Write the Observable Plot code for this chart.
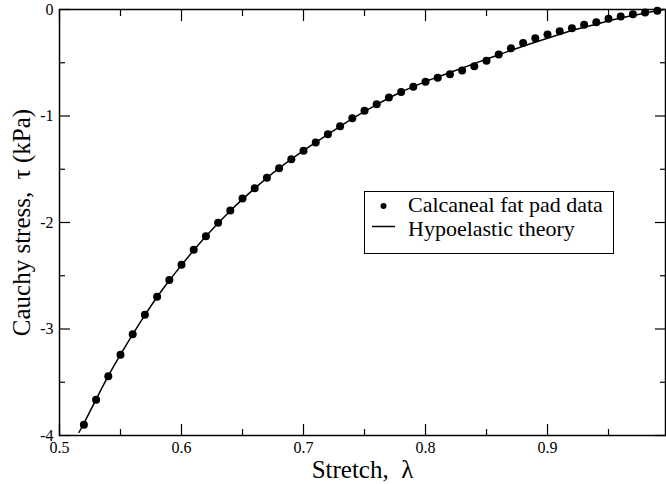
<!DOCTYPE html>
<html>
<head>
<meta charset="utf-8">
<script src="https://cdn.jsdelivr.net/npm/d3@7"></script>
<script src="https://cdn.jsdelivr.net/npm/@observablehq/plot@0.6"></script>
<style>
  html, body { margin: 0; padding: 0; background: #fff; }
  #chart svg { display: block; }
</style>
</head>
<body>
<div id="chart"></div>
<script>
// Measured data: stretch λ and Cauchy stress τ (kPa)
const dataStretch = [0.52, 0.53, 0.54, 0.55, 0.56, 0.57, 0.58, 0.59, 0.60, 0.61,
  0.62, 0.63, 0.64, 0.65, 0.66, 0.67, 0.68, 0.69, 0.70, 0.71,
  0.72, 0.73, 0.74, 0.75, 0.76, 0.77, 0.78, 0.79, 0.80, 0.81,
  0.82, 0.83, 0.84, 0.85, 0.86, 0.87, 0.88, 0.89, 0.90, 0.91,
  0.92, 0.93, 0.94, 0.95, 0.96, 0.97, 0.98, 0.99];
const dataStress = [-3.900, -3.665, -3.443, -3.242, -3.049, -2.867, -2.698, -2.540, -2.397, -2.256,
  -2.129, -2.003, -1.887, -1.775, -1.678, -1.580, -1.490, -1.407, -1.327, -1.249,
  -1.171, -1.096, -1.021, -0.951, -0.889, -0.826, -0.775, -0.726, -0.679, -0.641,
  -0.607, -0.573, -0.532, -0.482, -0.423, -0.365, -0.315, -0.269, -0.235, -0.204,
  -0.175, -0.144, -0.119, -0.087, -0.066, -0.044, -0.028, -0.012];

// Hypoelastic theory curve
const theoryStretch = [0.516, 0.52, 0.53, 0.54, 0.55, 0.56, 0.57, 0.58, 0.59, 0.60,
  0.62, 0.64, 0.66, 0.68, 0.70, 0.72, 0.74, 0.76, 0.78, 0.80,
  0.82, 0.84, 0.86, 0.88, 0.90, 0.92, 0.94, 0.96, 0.98, 0.995];
const theoryStress = [-3.97, -3.885, -3.66, -3.44, -3.24, -3.05, -2.87, -2.70, -2.545, -2.40,
  -2.13, -1.89, -1.68, -1.49, -1.325, -1.173, -1.025, -0.893, -0.775, -0.677,
  -0.592, -0.508, -0.425, -0.345, -0.270, -0.198, -0.138, -0.080, -0.033, 0.0];

const xMajor = [0.5, 0.6, 0.7, 0.8, 0.9];
const xMinor = [0.55, 0.65, 0.75, 0.85, 0.95];
const yMajor = [-4, -3, -2, -1, 0];
const yMinor = [-3.5, -2.5, -1.5, -0.5];

const xTitle = "Stretch,  λ";
const yTitle = "Cauchy stress,  τ (kPa)";
const legendLabels = ["Calcaneal fat pad data", "Hypoelastic theory"];

const points = dataStretch.map((x, i) => ({x, y: dataStress[i]}));
const theory = theoryStretch.map((x, i) => ({x, y: theoryStress[i]}));

const font = "'Liberation Serif', 'Times New Roman', serif";
const blank = () => "";

const chart = Plot.plot({
  width: 666,
  height: 484,
  marginLeft: 59,
  marginRight: 1,
  marginTop: 9,
  marginBottom: 49,
  style: {fontFamily: font, fontSize: "16px", color: "black", background: "white"},
  x: {domain: [0.5, 0.9967]},
  y: {domain: [-4, 0]},
  marks: [
    Plot.axisX({anchor: "bottom", ticks: xMajor, tickSize: -11, tickPadding: 17, tickFormat: d => String(d), label: null, strokeWidth: 1.2}),
    Plot.axisX({anchor: "bottom", ticks: xMinor, tickSize: -6, tickFormat: blank, label: null, strokeWidth: 1.2}),
    Plot.axisX({anchor: "top", ticks: xMajor, tickSize: -11, tickFormat: blank, label: null, strokeWidth: 1.2}),
    Plot.axisX({anchor: "top", ticks: xMinor, tickSize: -6, tickFormat: blank, label: null, strokeWidth: 1.2}),
    Plot.axisY({anchor: "left", ticks: yMajor, tickSize: -11, tickPadding: 17, tickFormat: d => String(d), label: null, strokeWidth: 1.2}),
    Plot.axisY({anchor: "left", ticks: yMinor, tickSize: -6, tickFormat: blank, label: null, strokeWidth: 1.2}),
    Plot.axisY({anchor: "right", ticks: yMajor, tickSize: -11, tickFormat: blank, label: null, strokeWidth: 1.2}),
    Plot.axisY({anchor: "right", ticks: yMinor, tickSize: -6, tickFormat: blank, label: null, strokeWidth: 1.2}),
    Plot.line(theory, {x: "x", y: "y", curve: "monotone-x", stroke: "black", strokeWidth: 1.5}),
    Plot.dot(points, {x: "x", y: "y", r: 4, fill: "black", stroke: "none"}),
    Plot.frame({stroke: "black", strokeWidth: 1.5}),
    Plot.text([xTitle], {frameAnchor: "bottom", dy: 34, textAnchor: "middle", lineAnchor: "middle", fontSize: 25, fill: "black"}),
    Plot.text([yTitle], {frameAnchor: "left", dx: -38, rotate: -90, textAnchor: "middle", lineAnchor: "middle", fontSize: 25, fill: "black"})
  ]
});

document.getElementById("chart").appendChild(chart);

// Legend box inside the plot area
const svg = d3.select(chart);
const lg = svg.append("g").attr("font-family", font).attr("font-size", 22)
  .attr("fill", "black").attr("text-anchor", "start");
lg.append("rect").attr("x", 364.5).attr("y", 191.5).attr("width", 249).attr("height", 62)
  .attr("fill", "white").attr("stroke", "black").attr("stroke-width", 1);
lg.append("circle").attr("cx", 383.5).attr("cy", 206).attr("r", 3).attr("fill", "black");
lg.append("line").attr("x1", 372).attr("x2", 395).attr("y1", 226.5).attr("y2", 226.5)
  .attr("stroke", "black").attr("stroke-width", 1.5);
lg.append("text").attr("x", 408).attr("y", 212).attr("text-anchor", "start").text(legendLabels[0]);
lg.append("text").attr("x", 408).attr("y", 236).attr("text-anchor", "start").text(legendLabels[1]);
</script>
</body>
</html>
